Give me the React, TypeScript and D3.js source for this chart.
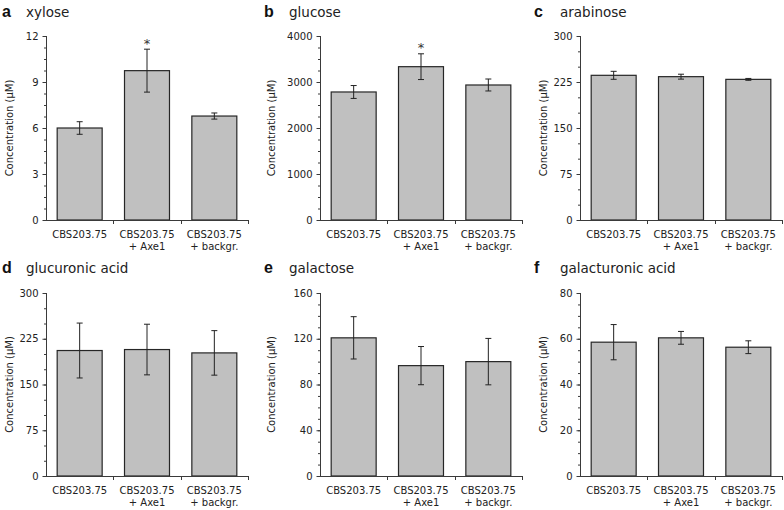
import React, { useEffect, useRef } from "react";
import * as d3 from "d3";

const categoryLines: string[][] = [
  ["CBS203.75"],
  ["CBS203.75", "+ Axe1"],
  ["CBS203.75", "+ backgr."],
];
const panelLetters = ["a", "b", "c", "d", "e", "f"];
const panelTitles = ["xylose", "glucose", "arabinose", "glucuronic acid", "galactose", "galacturonic acid"];
const means = [
  [6.0, 9.74, 6.78],
  [2783, 3333, 2935],
  [235.9, 233.7, 229.3],
  [205.7, 207.3, 201.8],
  [120.8, 96.5, 100.0],
  [58.5, 60.4, 56.3],
];
const errors = [
  [0.41, 1.4, 0.2],
  [140, 280, 130],
  [6.5, 4.0, 1.5],
  [45, 41.5, 36.5],
  [18.5, 16.7, 20.3],
  [7.7, 2.8, 2.8],
];
const significant = [
  [false, true, false],
  [false, true, false],
  [false, false, false],
  [false, false, false],
  [false, false, false],
  [false, false, false],
];
const yMax = [12, 4000, 300, 300, 160, 80];
const yMajor = [3, 1000, 75, 75, 40, 20];
const yMinor = [0.75, 250, 25, 25, 10, 5];
const yAxisTitle = "Concentration (µM)";

// layout
const colAxisX = [46, 320, 580];
const colYTitleX = [9, 271, 543];
const colLetterX = [2, 264, 534];
const colTitleX = [26, 289, 560];
const rowTop = [36, 293];
const rowBottom = [220, 476];
const rowTitleY = [17, 273];
const plotW = 202;

const FONT = "'DejaVu Sans', Verdana, sans-serif";

export default function App() {
  const ref = useRef<SVGSVGElement>(null);
  useEffect(() => {
    const svg = d3.select(ref.current);
    svg.selectAll("*").remove();
    const axisColor = "#3a3a3a";
    panelTitles.forEach((title, i) => {
      const col = i % 3;
      const row = Math.floor(i / 3);
      const x0 = colAxisX[col];
      const top = rowTop[row];
      const bottom = rowBottom[row];
      const g = svg.append("g");

      const x = d3
        .scaleBand<number>()
        .domain([0, 1, 2])
        .range([x0, x0 + plotW])
        .paddingInner(0.332)
        .paddingOuter(0.166);
      const y = d3.scaleLinear().domain([0, yMax[i]]).range([bottom, top]);

      // titles
      g.append("text")
        .attr("x", colLetterX[col])
        .attr("y", rowTitleY[row])
        .attr("font-family", "'Liberation Sans', Arial, sans-serif")
        .attr("font-weight", "bold")
        .attr("font-size", 16)
        .attr("fill", "#111")
        .text(panelLetters[i]);
      g.append("text")
        .attr("x", colTitleX[col])
        .attr("y", rowTitleY[row])
        .attr("font-family", FONT)
        .attr("font-size", 13.5)
        .attr("fill", "#222")
        .text(title);

      // y axis title
      g.append("text")
        .attr("transform", `translate(${colYTitleX[col] + 4},${(top + bottom) / 2}) rotate(-90)`)
        .attr("text-anchor", "middle")
        .attr("font-family", FONT)
        .attr("font-size", 10)
        .attr("fill", "#222")
        .text(yAxisTitle);

      // bars
      g.selectAll("rect.bar")
        .data(means[i])
        .enter()
        .append("rect")
        .attr("x", (_, k) => x(k)!)
        .attr("width", x.bandwidth())
        .attr("y", (d) => y(d))
        .attr("height", (d) => bottom - y(d))
        .attr("fill", "#c0c0c0")
        .attr("stroke", "#262626")
        .attr("stroke-width", 1.2);

      // error bars
      means[i].forEach((m, k) => {
        const cx = x(k)! + x.bandwidth() / 2;
        const e = errors[i][k];
        const yt = y(m + e);
        const yb = y(m - e);
        g.append("line").attr("x1", cx).attr("x2", cx).attr("y1", yt).attr("y2", yb)
          .attr("stroke", "#222").attr("stroke-width", 1);
        [yt, yb].forEach((yy) =>
          g.append("line").attr("x1", cx - 3).attr("x2", cx + 3).attr("y1", yy).attr("y2", yy)
            .attr("stroke", "#222").attr("stroke-width", 1)
        );
        if (significant[i][k]) {
          g.append("text")
            .attr("x", cx)
            .attr("y", yt - 1.5)
            .attr("text-anchor", "middle")
            .attr("font-family", FONT)
            .attr("font-size", 13)
            .attr("fill", "#333")
            .text("*");
        }
      });

      // y axis: minor ticks
      const minorVals = d3.range(0, yMax[i] + yMinor[i] / 2, yMinor[i]);
      const majorVals = d3.range(0, yMax[i] + yMajor[i] / 2, yMajor[i]);
      const minorAxis = d3.axisLeft(y).tickValues(minorVals).tickSize(2.5).tickFormat(() => "");
      const minorG = g.append("g").attr("transform", `translate(${x0 + 0.5},0)`).call(minorAxis);
      minorG.select(".domain").remove();
      minorG.selectAll("line").attr("stroke", axisColor);

      const majorAxis = d3.axisLeft(y).tickValues(majorVals).tickSize(4).tickPadding(4)
        .tickFormat((d) => d3.format("d")(d as number));
      const majorG = g.append("g").attr("transform", `translate(${x0 + 0.5},0)`).call(majorAxis);
      majorG.select(".domain").attr("stroke", axisColor).attr("d", `M0,${top}V${bottom}`);
      majorG.selectAll("line").attr("stroke", axisColor);
      majorG.selectAll("text").attr("font-family", FONT).attr("font-size", 10).attr("fill", "#222");

      // x axis
      const step = x.step();
      const xg = g.append("g");
      xg.append("line").attr("x1", x0).attr("x2", x0 + plotW).attr("y1", bottom + 0.5).attr("y2", bottom + 0.5)
        .attr("stroke", axisColor);
      [1, 2, 3].forEach((k) => {
        const xx = Math.round(x0 + k * step) + 0.5;
        xg.append("line").attr("x1", xx).attr("x2", xx).attr("y1", bottom).attr("y2", bottom + 4)
          .attr("stroke", axisColor);
      });
      categoryLines.forEach((lines, k) => {
        const cx = x(k)! + x.bandwidth() / 2;
        lines.forEach((ln, li) => {
          xg.append("text")
            .attr("x", cx)
            .attr("y", bottom + 17.5 + li * 12.5)
            .attr("text-anchor", "middle")
            .attr("font-family", FONT)
            .attr("font-size", 10)
            .attr("fill", "#222")
            .text(ln);
        });
      });
    });
  }, []);
  return (
    <svg
      ref={ref}
      width={784}
      height={510}
      style={{ position: "absolute", left: 0, top: 0, background: "#fff" }}
    />
  );
}
